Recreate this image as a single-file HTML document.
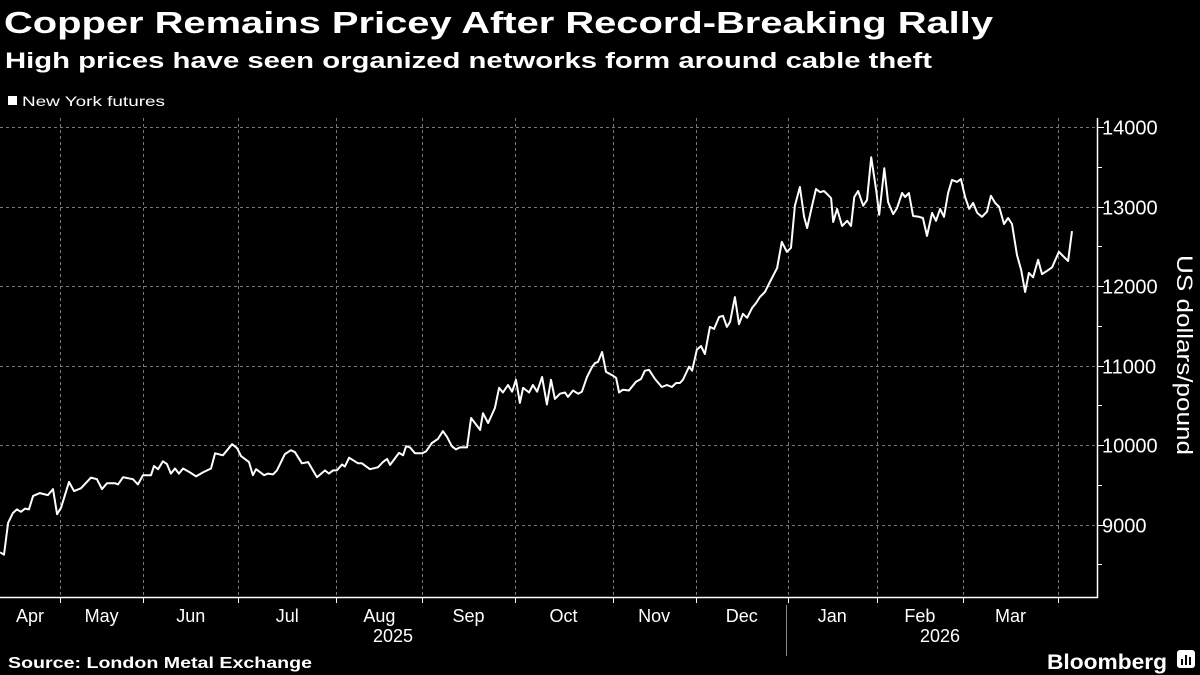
<!DOCTYPE html>
<html><head><meta charset="utf-8"><style>
html,body{margin:0;padding:0;background:#000;width:1200px;height:675px;overflow:hidden}
svg{display:block;font-family:"Liberation Sans",sans-serif}
</style></head><body>
<svg id="chart" width="1200" height="675" viewBox="0 0 1200 675" xmlns="http://www.w3.org/2000/svg">
<rect width="1200" height="675" fill="#000"/>
<text x="4" y="33" fill="#fff" font-size="31" font-weight="bold" textLength="989" lengthAdjust="spacingAndGlyphs">Copper Remains Pricey After Record-Breaking Rally</text>
<text x="5" y="68" fill="#fff" font-size="22" font-weight="bold" textLength="927" lengthAdjust="spacingAndGlyphs">High prices have seen organized networks form around cable theft</text>
<g>
<rect x="8" y="96" width="9" height="9" fill="#fff"/>
<text x="22" y="106" fill="#fff" font-size="14" textLength="143" lengthAdjust="spacingAndGlyphs">New York futures</text>
</g>
<g id="grid"></g>
<g id="axes"></g>
<path id="series" fill="none" stroke="#fff" stroke-width="2" stroke-linejoin="round"/>
<text transform="translate(1177,355) rotate(90)" text-anchor="middle" fill="#fff" font-size="22" textLength="200" lengthAdjust="spacingAndGlyphs">US dollars/pound</text>
<line x1="786.5" y1="605" x2="786.5" y2="656" stroke="#888" stroke-width="1"/>
<text x="393" y="642" text-anchor="middle" fill="#fff" font-size="18">2025</text>
<text x="940" y="642" text-anchor="middle" fill="#fff" font-size="18">2026</text>
<text x="8" y="668" fill="#fff" font-size="16" font-weight="bold" textLength="304" lengthAdjust="spacingAndGlyphs">Source: London Metal Exchange</text>
<text x="1047" y="669" fill="#fff" font-size="21" font-weight="bold" textLength="120" lengthAdjust="spacingAndGlyphs">Bloomberg</text>
<g>
<rect x="1177" y="650" width="18" height="18" rx="3" fill="#fff"/>
<rect x="1181" y="659" width="2" height="6" fill="#000"/><rect x="1185" y="655" width="2" height="10" fill="#000"/><rect x="1189" y="657" width="2" height="8" fill="#000"/>
</g>
</svg>
<script>
const days=[9.8,11.1,12.5,14.1,15.5,16.8,18.2,19.5,20.9,23.2,25.9,27.6,29.0,30.3,33.0,34.7,37.0,40.4,42.4,44.1,45.8,48.5,49.5,51.2,54.5,56.2,57.9,60.6,61.6,63.0,64.6,66.0,67.3,68.7,70.0,71.4,73.7,75.8,78.1,80.8,82.2,84.8,87.9,89.6,90.9,93.6,94.9,96.0,98.7,100.0,101.7,103.0,105.7,107.7,109.1,111.4,113.5,116.5,119.2,120.5,121.9,123.2,124.9,125.9,127.3,130.3,131.6,134.3,137.0,138.7,140.1,141.1,144.1,145.5,146.5,147.8,149.5,151.9,153.2,155.2,157.2,158.9,160.3,161.9,163.3,164.6,167.0,168.4,171.4,172.4,174.1,176.4,177.8,179.1,180.8,182.2,183.5,184.8,
185.9,187.9,189.2,190.6,192.3,193.9,195.3,196.6,198.3,200.0,201.0,202.7,204.4,205.7,207.4,209.1,210.1,211.1,212.5,213.8,216.2,217.2,218.2,219.5,221.5,223.9,225.6,226.9,228.3,230.3,232.6,234.3,236.0,237.4,238.7,239.7,241.8,242.8,244.4,245.8,247.1,248.8,250.2,251.9,253.2,254.5,255.6,257.2,258.6,259.9,261.3,263.0,264.3,265.6,267.3,269.0,271.4,273.0,274.7,276.1,
277.4,279.1,280.5,281.5,283.2,284.5,285.9,287.2,288.6,289.6,290.3,291.6,293.3,295.0,296.3,297.4,298.7,300.4,301.7,303.1,304.8,305.8,307.5,308.8,310.5,311.8,313.5,314.5,315.8,317.2,319.2,320.5,321.9,323.6,324.9,326.3,327.6,329.0,330.3,332.0,333.3,334.7,336.1,337.4,338.8,340.4,342.1,343.4,344.8,346.2,347.8,349.2,350.5,352.2,353.6,354.9,356.2,357.6,359.3,360.6,362.3,364.0,366.3,368.0,369.4,370.7];
const prices=[8650,8620,9020,9145,9190,9160,9200,9190,9360,9395,9370,9445,9130,9210,9535,9420,9455,9590,9570,9445,9520,9520,9505,9595,9570,9505,9620,9620,9735,9695,9795,9760,9640,9705,9640,9705,9655,9605,9655,9705,9895,9870,10010,9960,9860,9785,9620,9695,9620,9640,9630,9680,9885,9935,9910,9770,9785,9595,9680,9640,9680,9680,9755,9730,9840,9770,9770,9695,9720,9785,9825,9750,9900,9870,9985,9970,9895,9895,9920,10025,10075,10175,10100,9985,9945,9970,9970,10340,10190,10400,10275,10465,10720,10660,10755,10670,10820,10530,
10720,10660,10755,10670,10855,10510,10820,10580,10645,10660,10605,10685,10645,10670,10855,10980,11030,11045,11170,10920,10870,10845,10660,10695,10685,10795,10830,10935,10945,10830,10730,10755,10730,10780,10780,10820,10985,10935,11200,11245,11145,11485,11460,11610,11625,11485,11550,11860,11520,11650,11600,11725,11785,11860,11925,12050,12225,12555,12430,12480,
13010,13245,12870,12730,13010,13220,13180,13195,13145,13105,12805,12970,12755,12820,12755,13120,13195,13010,13080,13620,13195,12895,13480,13055,12905,12980,13170,13120,13170,12880,12870,12855,12630,12920,12820,12970,12870,13170,13335,13310,13345,13120,12970,13045,12920,12870,12935,13135,13045,12995,12780,12855,12780,12390,12200,11925,12165,12110,12330,12150,12190,12235,12430,12365,12315,12690];
const yTicks=[9000,10000,11000,12000,13000,14000];
const yMinorTicks=[8500,9500,10500,11500,12500,13500];
const monthStarts=[0,30,58,90,123,152,183,216,244,275,305,334,366];
const monthLabels=["Apr","May","Jun","Jul","Aug","Sep","Oct","Nov","Dec","Jan","Feb","Mar"];

const NS="http://www.w3.org/2000/svg";
const PL=0,PR=1097,PT=118,PB=597;
function xs(d){return -29+d*2.97;}
function ys(v){return 286-(v-12000)*0.0795;}
function mk(tag,attrs,parent){const e=document.createElementNS(NS,tag);for(const k in attrs)e.setAttribute(k,attrs[k]);parent.appendChild(e);return e;}
const grid=document.getElementById('grid'),axes=document.getElementById('axes');
yTicks.forEach(v=>{
  const y=Math.round(ys(v))+0.5;
  const g=mk('line',{x1:PL,x2:PR,y1:y,y2:y,stroke:'#777','stroke-width':1,'stroke-dasharray':'3,3'},grid);
  
  
  const t=mk('line',{x1:PR,x2:PR+7,y1:y,y2:y,stroke:'#fff','stroke-width':1},axes);
  
  
  const l=mk('text',{x:PR+5,y:y+7,fill:'#fff','font-size':20},axes);
  l.textContent=String(v);
  
  
});
yMinorTicks.forEach(v=>{
  const y=Math.round(ys(v))+0.5;
  const t=mk('line',{x1:PR,x2:PR+5,y1:y,y2:y,stroke:'#fff','stroke-width':1},axes);
  
  
});
for(let i=1;i<monthStarts.length;i++){
  const x=Math.round(xs(monthStarts[i]))+0.5;
  if(x<PR-2){
    const g=mk('line',{x1:x,x2:x,y1:PT,y2:PB,stroke:'#777','stroke-width':1,'stroke-dasharray':'3,3'},grid);
    
    
  }
  const t=mk('line',{x1:x,x2:x,y1:PB,y2:PB+6,stroke:'#fff','stroke-width':1},axes);
  
  
}
monthLabels.forEach((m,i)=>{
  const a=Math.max(0,xs(monthStarts[i])),b=xs(monthStarts[i+1]);
  const l=mk('text',{x:(a+b)/2,y:622,fill:'#fff','font-size':18,'text-anchor':'middle'},axes);
  l.textContent=m;
  
  
});
const ax=mk('path',{d:`M${PL} ${PB+0.5}H${PR+0.5}V${PT}`,stroke:'#fff','stroke-width':1.5,fill:'none'},axes);


let d='';
days.forEach((dd,i)=>{d+=(i?'L':'M')+xs(dd).toFixed(1)+' '+ys(prices[i]).toFixed(1);});
document.getElementById('series').setAttribute('d',d);
</script>
</body></html>
